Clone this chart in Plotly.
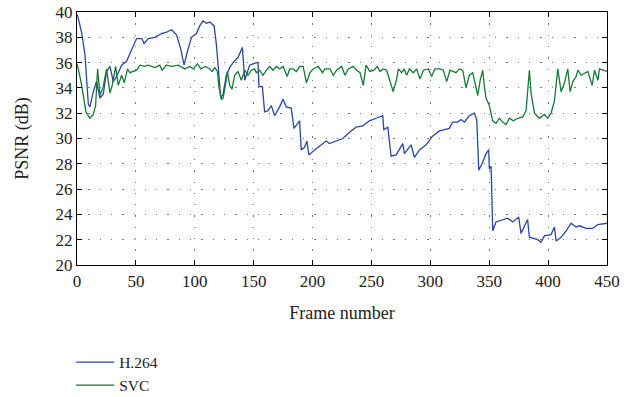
import plotly.graph_objects as go

h264_frames = [0, 1.1, 3.9, 6.8, 9.6, 11, 13.8, 16.6, 19.5, 22.3, 25.1, 28, 30.8, 33.6, 37.9, 42.1, 46.3,
               50.6, 55, 57, 60.4, 66, 71.8, 76, 80.2, 84.5, 88, 90.9, 93.8, 97.2, 101.4, 104.2, 107,
               109.9, 112.7, 116.4, 118.4, 120.3, 122, 124, 126.8, 129.6, 132.5, 136.7, 140.4, 142.4,
               146.6, 152.3, 153.7, 154.5, 157.4, 159.3, 162.1, 165, 167.8, 172, 174.9, 177.7, 181.9,
               184.2, 189, 190.4, 193.2, 195.2, 196.9, 201.7, 207.3, 211.6, 214.4, 220, 225.7, 231.4,
               237, 242.7, 248.3, 254, 259.6, 260.5, 263.9, 266.7, 271, 276.6, 278, 283.7, 286.5, 290.8,
               296.4, 302.1, 307.7, 312, 316.1, 319, 323.2, 326, 328.9, 333.1, 337.4, 339.4, 341.1,
               343.9, 347.3, 349.6, 350.1, 351.6, 353, 355.8, 361.5, 365.7, 370, 375, 377, 379.8, 382.6,
               384.1, 386.9, 391.2, 394, 396.8, 402.5, 405.4, 406.8, 411, 415.3, 419.5, 423.7, 426.6,
               432.2, 437.9, 442.1, 447.8, 450]
h264_psnr = [39.8, 39.5, 38.4, 36.6, 32.7, 32.5, 33.7, 34.5, 33.2, 33.5, 35.3, 35.7, 34.5, 34.9, 35.8, 36.1, 37.0,
             37.9, 37.9, 37.5, 37.9, 38.0, 38.3, 38.4, 38.6, 38.2, 37.1, 35.8, 36.9, 38.0, 38.3, 38.9, 39.3,
             39.1, 39.2, 38.9, 37.4, 35.3, 33.2, 33.5, 35.0, 35.6, 36.0, 36.4, 37.2, 34.6,
             35.8, 36.0, 36.0, 34.1, 34.1, 32.1, 32.2, 32.6, 31.8, 32.5, 33.1, 32.5, 32.4,
             30.8, 31.4, 29.1, 29.3, 29.8, 28.7, 29.1, 29.5, 29.8, 29.6, 29.8, 30.0, 30.5,
             30.9, 31.0, 31.4, 31.6, 31.8, 30.7, 30.9, 28.6, 28.7, 29.6, 28.8, 29.5, 28.5, 29.1,
             29.5, 30.2, 30.6, 30.7, 30.8, 31.3, 31.3, 31.5, 31.3, 31.8, 32.0, 31.5, 27.5,
             28.0, 28.8, 29.1, 27.6, 27.8, 22.7, 23.4, 23.6, 23.7, 23.4, 23.8, 22.5, 23.1, 23.6,
             22.2, 22.1, 22.0, 21.8, 22.3, 22.4, 23.0, 21.9, 22.2, 22.7, 23.3, 23.0, 23.1,
             22.9, 22.9, 23.2, 23.3, 23.3]

svc_frames = [0, 0.6, 3.4, 5.4, 7.6, 11, 13.8, 15.8, 17.5, 19.5, 22.3, 25.1, 28, 29.9, 32.8, 35, 37.9, 40.1,
              42.9, 44.9, 47.7, 50.6, 53.4, 57.6, 60.4, 66, 70.3, 72.3, 76, 80.2, 85.9, 91.5, 95.8, 98.6,
              102.3, 105.1, 109.1, 112.7, 114.7, 117, 119.2, 120.3, 122.6, 124, 126, 127.7, 129.6, 131.6,
              133.9, 136.7, 139.5, 142.4, 145.2, 148, 150.8, 152.3, 155.1, 157.9, 160.8, 163.6, 166.5,
              169.3, 172.1, 175, 178.4, 180.6, 183.5, 186.3, 189.2, 192, 194.8, 197.7, 200.5, 204.8,
              208.5, 210.5, 214.8, 217.6, 220.4, 224.7, 227.5, 230.4, 234.6, 237.4, 240.3, 243.1, 245.4,
              248.7, 252.1, 255, 257.2, 260.1, 262.9, 265.7, 268.5, 271.4, 272.8, 275.7, 277.7, 279.9,
              282.2, 285.6, 288.4, 291.2, 294.1, 298.3, 301.1, 303.9, 308.2, 311, 313.9, 316.7, 321.8,
              324.6, 327.5, 330.3, 333.1, 336, 338.8, 340.3, 342.3, 344.5, 345.9, 347.3, 350.1, 353,
              355.8, 358.6, 361.5, 364.3, 367.1, 370.5, 374.2, 378.5, 381.3, 384.1, 385.5, 388.4, 392.6,
              396.8, 399.7, 402.5, 405.4, 408.2, 411, 413.9, 416.7, 418.7, 421, 423.8, 425.3, 428.1,
              433.7, 437.4, 439.4, 442.3, 443.6, 447.9, 450]
svc_psnr = [35.9, 35.7, 34.5, 33.2, 32.1, 31.6, 31.9, 32.6, 35.5, 33.4, 34.1, 35.5, 33.6, 34.2, 35.7, 34.2, 35.0, 34.4,
            35.5, 35.2, 35.3, 35.4, 35.8, 35.7, 35.8, 35.6, 35.8, 35.4, 35.8, 35.7, 35.8, 35.5, 35.7, 35.5,
            35.9, 35.5, 35.7, 35.5, 35.3, 35.6, 35.3, 34.2, 33.1, 33.2, 34.2, 35.3, 34.2, 33.9,
            35.0, 35.3, 34.6, 35.4, 35.0, 35.4, 35.5, 35.2, 35.4, 35.0, 35.4, 35.7, 35.4,
            35.7, 35.5, 35.7, 34.9, 35.5, 35.5, 35.3, 35.7, 35.7, 34.4, 35.2, 35.5, 35.7,
            35.2, 35.5, 35.5, 35.0, 35.4, 35.7, 35.0, 35.5, 35.7, 35.4, 35.2, 34.2, 35.8,
            35.3, 35.4, 35.7, 35.3, 35.5, 35.4, 34.6, 33.7, 34.7, 35.5, 35.2, 35.5, 35.0,
            35.5, 35.2, 35.5, 34.7, 35.4, 35.5, 34.9, 35.5, 35.5, 35.4, 34.5, 35.4, 35.2,
            35.5, 35.4, 34.0, 35.0, 35.2, 34.1, 33.4, 34.6, 35.4, 34.1, 33.2, 32.6, 31.4,
            31.2, 31.6, 31.3, 31.1, 31.6, 31.4, 31.6, 31.7, 32.2, 35.4, 33.6, 32.0, 31.6,
            31.9, 31.6, 32.0, 33.0, 35.5, 33.7, 34.4, 35.5, 33.7, 34.5, 34.9, 35.4, 35.0,
            35.3, 34.2, 35.4, 34.6, 35.5, 35.4, 35.3]

x_ticks = [0, 50, 100, 150, 200, 250, 300, 350, 400, 450]
y_ticks = [20, 22, 24, 26, 28, 30, 32, 34, 36, 38, 40]

BLUE = "#2947a6"
GREEN = "#157a36"
FONT = "Liberation Serif, DejaVu Serif, serif"

fig = go.Figure()
fig.add_trace(go.Scatter(x=h264_frames, y=h264_psnr, mode="lines", name="H.264",
                         line=dict(color=BLUE, width=1.3)))
fig.add_trace(go.Scatter(x=svc_frames, y=svc_psnr, mode="lines", name="SVC",
                         line=dict(color=GREEN, width=1.3)))

axis_common = dict(showline=True, linecolor="black", linewidth=1.2, mirror="ticks",
                   ticks="inside", ticklen=5, tickcolor="black", showgrid=True,
                   gridcolor="#777", gridwidth=1.3, griddash="1.3px,10px", zeroline=False,
                   automargin=False,
                   tickfont=dict(family=FONT, size=17, color="#222"))

fig.update_xaxes(range=[0, 450], tickvals=x_ticks, **axis_common,
                 title=dict(text="Frame number", font=dict(family=FONT, size=18, color="#222"), standoff=16))
fig.update_yaxes(range=[20, 40], tickvals=y_ticks, **axis_common,
                 title=dict(text="PSNR (dB)", font=dict(family=FONT, size=18, color="#222"), standoff=22))

fig.update_layout(
    width=635, height=397,
    margin=dict(l=77, r=28, t=12, b=132, autoexpand=False),
    paper_bgcolor="white", plot_bgcolor="white",
    showlegend=True,
    legend=dict(x=-0.011, y=-0.318, xanchor="left", yanchor="top", orientation="v",
                itemwidth=38,
                font=dict(family=FONT, size=15.5, color="#222"), tracegroupgap=0,
                bgcolor="rgba(0,0,0,0)"),
)

fig.write_html("out.html", config={"displayModeBar": False},
               post_script="document.body.style.margin='0';")
